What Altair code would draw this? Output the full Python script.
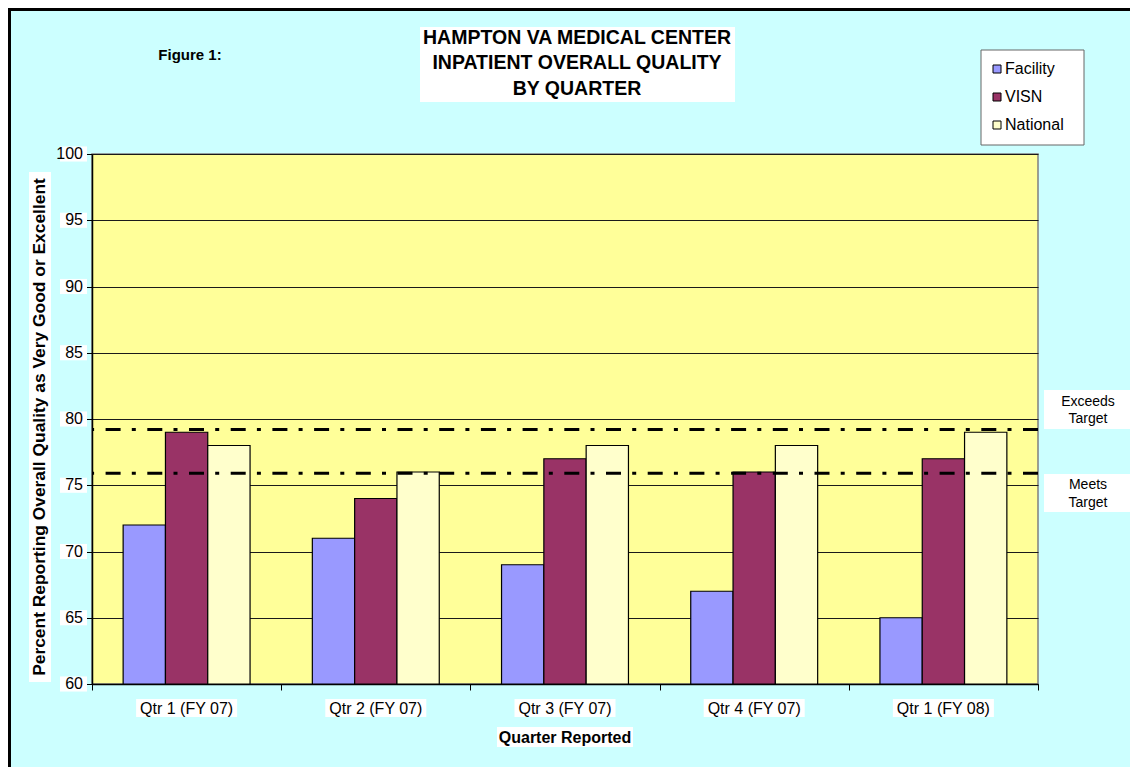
import altair as alt
import pandas as pd

# ---- data ----
quarters = ["Qtr 1 (FY 07)", "Qtr 2 (FY 07)", "Qtr 3 (FY 07)", "Qtr 4 (FY 07)", "Qtr 1 (FY 08)"]
series = ["Facility", "VISN", "National"]
facility = [72, 71, 69, 67, 65]
visn = [79, 74, 77, 76, 77]
national = [78, 76, 78, 78, 79]
colors = ["#9999FF", "#993366", "#FFFFCC"]
target_names = ["Exceeds Target", "Meets Target"]
target_values = [79.2, 75.9]
y_ticks = [60, 65, 70, 75, 80, 85, 90, 95, 100]

title_lines = ["HAMPTON VA MEDICAL CENTER", "INPATIENT OVERALL QUALITY", "BY QUARTER"]
x_title = "Quarter Reported"
y_title = "Percent Reporting Overall Quality as Very Good or Excellent"
fig_label = "Figure 1:"

rows = []
for s, vals in zip(series, [facility, visn, national]):
    for q, v in zip(quarters, vals):
        rows.append({"quarter": q, "series": s, "value": v})
df = pd.DataFrame(rows)
targets = pd.DataFrame({"name": target_names, "value": target_values})
ticks_df = pd.DataFrame({"tick": y_ticks, "label": [str(t) for t in y_ticks]})
q_df = pd.DataFrame({"quarter": quarters})
one = pd.DataFrame({"k": [0]})

FONT = "Liberation Sans"
W, H = 946, 530

xscale = alt.Scale(domain=quarters, paddingInner=0, paddingOuter=0)
yscale = alt.Scale(domain=[60, 100], zero=False, nice=False)
xaxis = alt.Axis(labels=False, title=None, tickBand="extent", ticks=True, tickSize=6,
                 tickColor="black", domainColor="black", domainWidth=1.5, grid=False)
yaxis = alt.Axis(values=y_ticks, labels=False, title=None, grid=True, gridColor="#1a1a1a",
                 gridWidth=1, tickSize=6, tickColor="black", domainColor="black", domainWidth=1.5)

# outer frame
frame = alt.Chart(one).mark_rect(fillOpacity=0, stroke="black", strokeWidth=3).encode(
    x=alt.value(-82.5), y=alt.value(-144.5), x2=alt.value(1200), y2=alt.value(900)
)

# title
title_box = alt.Chart(one).mark_rect(color="white").encode(
    x=alt.value(328), x2=alt.value(643), y=alt.value(-127), y2=alt.value(-52)
)
title_txt = alt.Chart(one).mark_text(
    text=title_lines, fontSize=19.5, fontWeight="bold", align="center",
    baseline="middle", lineHeight=25.6, color="black"
).encode(x=alt.value(485), y=alt.value(-116.3))

fig_txt = alt.Chart(one).mark_text(
    text=fig_label, fontSize=15, fontWeight="bold", align="center", baseline="middle", color="black"
).encode(x=alt.value(98), y=alt.value(-99))

legend_box = alt.Chart(one).mark_rect(fill="white", stroke="#666666", strokeWidth=1).encode(
    x=alt.value(889), x2=alt.value(992), y=alt.value(-104), y2=alt.value(-9)
)

bars = alt.Chart(df).mark_bar(stroke="black", strokeWidth=1.2).encode(
    x=alt.X("quarter:N", sort=quarters, scale=xscale, title=None, axis=xaxis),
    xOffset=alt.XOffset("series:N", sort=series,
                        scale=alt.Scale(domain=series, paddingInner=0, paddingOuter=0.736)),
    y=alt.Y("value:Q", scale=yscale, title=None, axis=yaxis),
    y2=alt.datum(60),
    color=alt.Color("series:N", sort=series, scale=alt.Scale(domain=series, range=colors),
                    legend=alt.Legend(orient="none", legendX=885, legendY=-105, title=None,
                                      padding=12, symbolType="square", symbolSize=64,
                                      symbolStrokeColor="black", symbolStrokeWidth=1,
                                      labelFontSize=16, labelFont=FONT, labelColor="black",
                                      rowPadding=12, labelOffset=0, symbolOffset=0)),
)

rules = alt.Chart(targets).mark_rule(color="black", strokeWidth=3, strokeDash=[15, 11.5, 4, 11.2]).encode(
    y=alt.Y("value:Q", scale=yscale, title=None, axis=yaxis)
)

ylab_box = alt.Chart(ticks_df).transform_calculate(
    lo="datum.tick - 0.57", hi="datum.tick + 0.57"
).mark_rect(color="white").encode(
    x=alt.value(-32), x2=alt.value(-5),
    y=alt.Y("lo:Q", scale=yscale, title=None, axis=yaxis), y2="hi:Q"
)
ylab_txt = alt.Chart(ticks_df).mark_text(fontSize=16, align="right", baseline="middle", color="black").encode(
    x=alt.value(-9), y=alt.Y("tick:Q", scale=yscale, title=None, axis=yaxis), text="label:N"
)

xlab_box = alt.Chart(q_df).mark_bar(color="white", width=101).encode(
    x=alt.X("quarter:N", sort=quarters, scale=xscale, title=None, axis=xaxis),
    y=alt.value(545), y2=alt.value(563)
)
xlab_txt = alt.Chart(q_df).mark_text(fontSize=16, align="center", baseline="middle", color="black").encode(
    x=alt.X("quarter:N", sort=quarters, scale=xscale, title=None, axis=xaxis),
    y=alt.value(554.5), text="quarter:N"
)

xt_box = alt.Chart(one).mark_rect(color="white").encode(
    x=alt.value(405), x2=alt.value(541), y=alt.value(573), y2=alt.value(593)
)
xt_txt = alt.Chart(one).mark_text(text=x_title, fontSize=16, fontWeight="bold", align="center",
                                  baseline="middle", color="black").encode(
    x=alt.value(473), y=alt.value(583.5)
)
yt_box = alt.Chart(one).mark_rect(color="white").encode(
    x=alt.value(-63), x2=alt.value(-41), y=alt.value(18), y2=alt.value(528)
)
yt_txt = alt.Chart(one).mark_text(text=y_title, fontSize=17.4, fontWeight="bold", align="center",
                                  baseline="middle", angle=270, color="black").encode(
    x=alt.value(-52), y=alt.value(273)
)

ann_box1 = alt.Chart(one).mark_rect(color="white").encode(
    x=alt.value(952), x2=alt.value(1040), y=alt.value(236), y2=alt.value(275)
)
ann_txt1 = alt.Chart(one).mark_text(text=["Exceeds", "Target"], fontSize=14, align="center",
                                    baseline="middle", lineHeight=17.5, color="black").encode(
    x=alt.value(996), y=alt.value(247.5)
)
ann_box2 = alt.Chart(one).mark_rect(color="white").encode(
    x=alt.value(952), x2=alt.value(1040), y=alt.value(320), y2=alt.value(358)
)
ann_txt2 = alt.Chart(one).mark_text(text=["Meets", "Target"], fontSize=14, align="center",
                                    baseline="middle", lineHeight=17.5, color="black").encode(
    x=alt.value(996), y=alt.value(331)
)

chart = alt.layer(
    frame, title_box, title_txt, fig_txt, legend_box, bars, rules,
    ylab_box, ylab_txt, xlab_box, xlab_txt, xt_box, xt_txt, yt_box, yt_txt,
    ann_box1, ann_txt1, ann_box2, ann_txt2
).properties(
    width=W, height=H,
    autosize=alt.AutoSizeParams(type="none"),
    padding={"left": 84, "top": 146, "right": 92, "bottom": 83},
    background="#CCFFFF",
).configure(font=FONT).configure_view(
    fill="#FFFF99", stroke="#808080", strokeWidth=1.5
)

chart.save("out.html", embed_options={"renderer": "svg", "actions": False})
